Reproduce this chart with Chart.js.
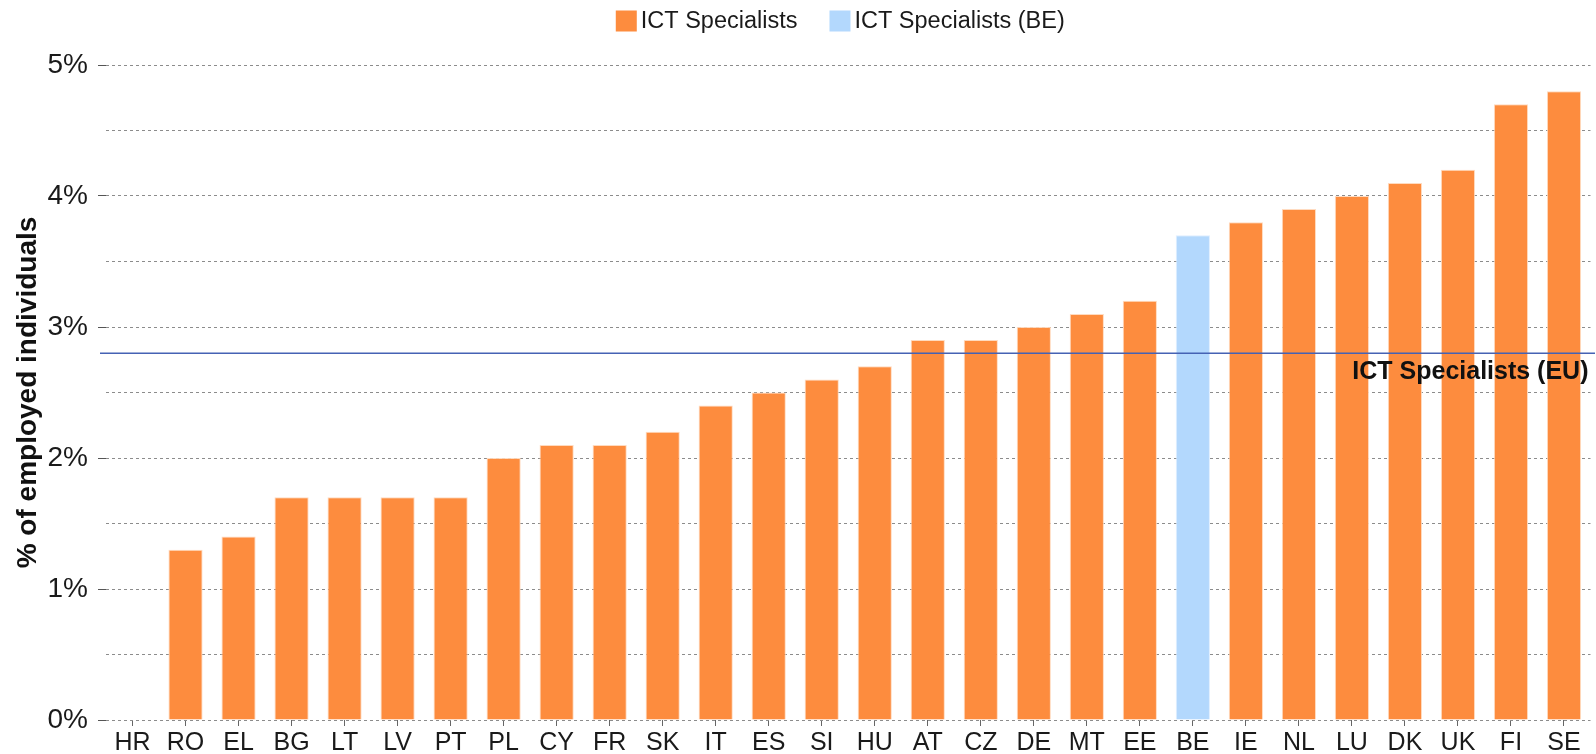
<!DOCTYPE html>
<html>
<head>
<meta charset="utf-8">
<script src="https://cdn.jsdelivr.net/npm/chart.js@4/dist/chart.umd.min.js"></script>
<style>
  html, body { margin: 0; padding: 0; background: #ffffff; }
  #wrap { position: relative; width: 1596px; height: 754px; }
</style>
</head>
<body>
<div id="wrap"><canvas id="c"></canvas></div>
<script>
// ---- data ----
const categories = ["HR","RO","EL","BG","LT","LV","PT","PL","CY","FR","SK","IT","ES","SI","HU","AT","CZ","DE","MT","EE","BE","IE","NL","LU","DK","UK","FI","SE"];
const ictSpecialists = [null,1.3,1.4,1.7,1.7,1.7,1.7,2.0,2.1,2.1,2.2,2.4,2.5,2.6,2.7,2.9,2.9,3.0,3.1,3.2,null,3.8,3.9,4.0,4.1,4.2,4.7,4.8];
const ictSpecialistsBE = [null,null,null,null,null,null,null,null,null,null,null,null,null,null,null,null,null,null,null,null,3.7,null,null,null,null,null,null,null];
const euAverage = 2.8;
const euLabel = "ICT Specialists (EU)";
const yTitle = "% of employed individuals";
const seriesNames = ["ICT Specialists", "ICT Specialists (BE)"];
const seriesColors = ["#fd8c3e", "#b3d8fd"];

const FONT = "'Liberation Sans', Arial, sans-serif";

const euLinePlugin = {
  id: 'euLine',
  afterDatasetsDraw(chart) {
    const { ctx, chartArea, scales } = chart;
    const y = scales.y.getPixelForValue(euAverage);
    ctx.save();
    ctx.strokeStyle = '#4562b4';
    ctx.lineWidth = 1.6;
    ctx.beginPath();
    ctx.moveTo(chartArea.left - 6, y);
    ctx.lineTo(chart.width - 1, y);
    ctx.stroke();
    ctx.fillStyle = '#111';
    ctx.font = "bold 25px " + FONT;
    ctx.textAlign = 'right';
    ctx.textBaseline = 'alphabetic';
    ctx.fillText(euLabel, chartArea.right - 2, y + 26);
    ctx.restore();
  }
};

// legend drawn on the canvas, from the dataset labels and colours
const legendPlugin = {
  id: 'topLegend',
  afterDraw(chart) {
    const { ctx, chartArea } = chart;
    const box = 21, gapText = 4, gapItem = 32;
    ctx.save();
    ctx.font = "23.5px " + FONT;
    const items = chart.data.datasets.map(d => ({ text: d.label, color: d.backgroundColor, w: ctx.measureText(d.label).width }));
    const total = items.reduce((s, it) => s + box + gapText + it.w, 0) + gapItem * (items.length - 1);
    let x = (chartArea.left + chartArea.right) / 2 - 8 - total / 2;
    const cy = 21;
    items.forEach(it => {
      ctx.fillStyle = it.color;
      ctx.fillRect(x, cy - box / 2, box, box);
      ctx.fillStyle = '#1a1a1a';
      ctx.textAlign = 'left';
      ctx.textBaseline = 'middle';
      ctx.fillText(it.text, x + box + gapText, cy + 1);
      x += box + gapText + it.w + gapItem;
    });
    ctx.restore();
  }
};

new Chart(document.getElementById('c'), {
  type: 'bar',
  data: {
    labels: categories,
    datasets: [
      {
        label: seriesNames[0],
        data: ictSpecialists,
        backgroundColor: seriesColors[0],
        borderColor: 'rgba(255,215,185,0.9)',
        borderWidth: 1,
        barPercentage: 0.645,
        categoryPercentage: 1.0
      },
      {
        label: seriesNames[1],
        data: ictSpecialistsBE,
        backgroundColor: seriesColors[1],
        borderColor: 'rgba(220,236,255,0.9)',
        borderWidth: 1,
        barPercentage: 0.645,
        categoryPercentage: 1.0
      }
    ]
  },
  options: {
    responsive: true,
    maintainAspectRatio: false,
    animation: false,
    layout: { padding: { left: 0, right: 5.5, top: 65, bottom: 0 } },
    plugins: {
      legend: { display: false },
      tooltip: { enabled: false }
    },
    scales: {
      x: {
        stacked: true,
        border: { display: false },
        afterFit: (s) => { s.height = 34; },
        grid: {
          offset: false,
          drawOnChartArea: false,
          drawTicks: true,
          tickLength: 6,
          tickColor: '#666'
        },
        ticks: {
          font: { family: FONT, size: 25 },
          color: '#1a1a1a',
          padding: 2,
          maxRotation: 0,
          autoSkip: false
        }
      },
      y: {
        stacked: true,
        min: 0,
        max: 5,
        afterFit: (s) => { s.width = 106; },
        border: { display: false, dash: [3, 3] },
        grid: {
          color: '#8c8c8c',
          lineWidth: 1,
          tickLength: 8,
          tickBorderDash: [],
          tickColor: (c) => (c.tick && Math.abs(c.tick.value % 1) < 1e-9) ? '#555' : 'rgba(0,0,0,0)'
        },
        ticks: {
          stepSize: 0.5,
          font: { family: FONT, size: 28 },
          color: '#1a1a1a',
          padding: 10,
          callback: (v) => (Math.abs(v % 1) < 1e-9) ? v + '%' : ''
        },
        title: {
          display: true,
          text: yTitle,
          font: { family: FONT, size: 28, weight: 'bold' },
          color: '#111',
          padding: { top: 11, bottom: 0 }
        }
      }
    }
  },
  plugins: [euLinePlugin, legendPlugin]
});
</script>
</body>
</html>
